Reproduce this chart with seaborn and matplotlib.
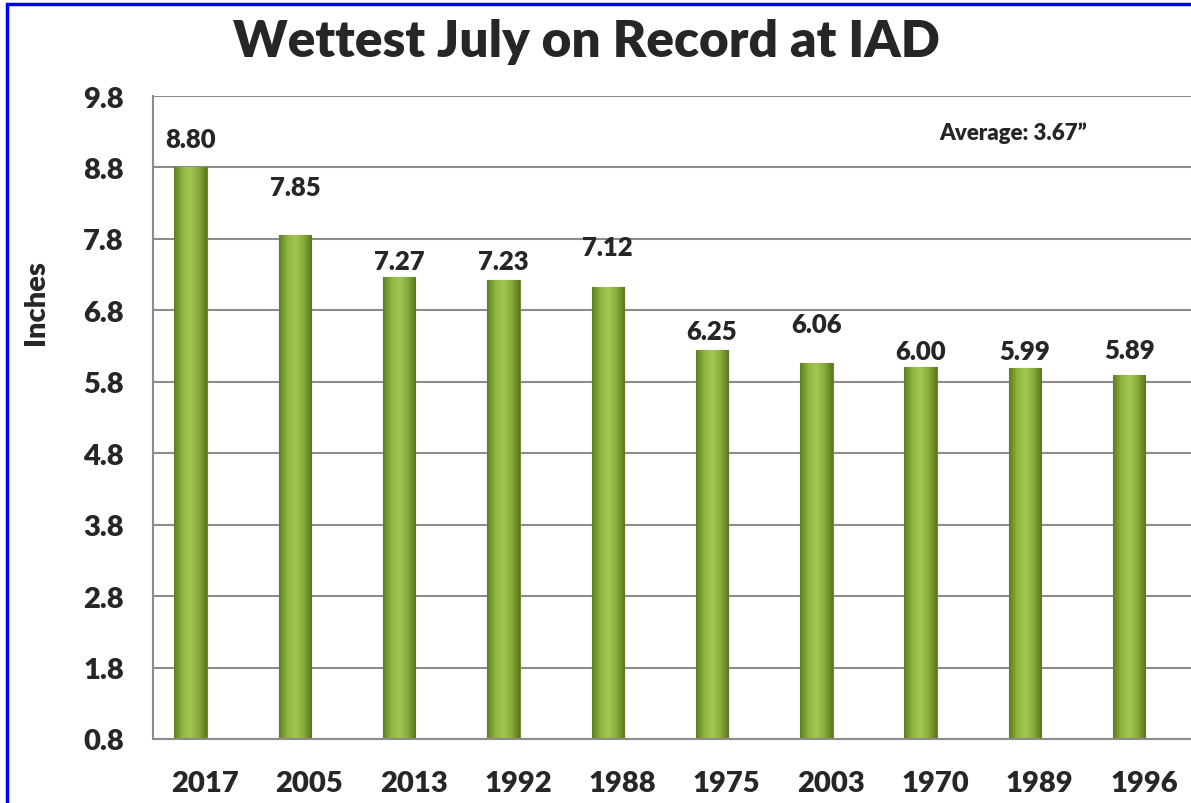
import numpy as np
import pandas as pd
import seaborn as sns
import matplotlib.pyplot as plt
from matplotlib.patches import Rectangle
from matplotlib.colors import LinearSegmentedColormap

# data
years = ['2017', '2005', '2013', '1992', '1988', '1975', '2003', '1970', '1989', '1996']
rain = [8.80, 7.85, 7.27, 7.23, 7.12, 6.25, 6.06, 6.00, 5.99, 5.89]
# where each value label sits (data units, labels were nudged by hand in the original)
label_y = [9.20, 8.53, 7.49, 7.49, 7.69, 6.51, 6.61, 6.23, 6.23, 6.24]
yticks = [0.8, 1.8, 2.8, 3.8, 4.8, 5.8, 6.8, 7.8, 8.8, 9.8]

df = pd.DataFrame({'year': years, 'inches': rain})

# bars in the original sit a bit left of the category centre
shift = -0.14

sns.set_style('white')
plt.rcParams['font.family'] = ['Lato', 'DejaVu Sans']
plt.rcParams['font.weight'] = 'heavy'

fig = plt.figure(figsize=(11.91, 8.04), dpi=100)
ax = fig.add_axes([153/1191, 64/804, 1043/1191, 643/804])

sns.barplot(data=df, x='year', y='inches', color='#8cb23c', width=0.31,
            edgecolor='#6f8f2c', linewidth=0.8, ax=ax)

# cylinder-ish shading on each bar
cmap = LinearSegmentedColormap.from_list('bar', ['#5f7d22', '#8fb53e', '#a3c755', '#88ac38', '#5a7620'])
grad = np.linspace(0, 1, 64).reshape(1, -1)
for p in ax.patches:
    p.set_x(p.get_x() + shift)
    x0, w, h = p.get_x(), p.get_width(), p.get_height()
    im = ax.imshow(grad, cmap=cmap, aspect='auto', extent=[x0, x0 + w, 0.8, h], zorder=p.get_zorder() + 0.1)
    im.set_clip_path(p)

ax.set_ylim(0.8, 9.8)
ax.set_xlim(-0.5, 9.5)
ax.set_yticks(yticks)
ax.set_yticklabels([f'{t:.1f}' for t in yticks])
ax.yaxis.grid(True, color='#8c8c8c', linewidth=1.5)
ax.set_axisbelow(True)

# tick marks between the categories, labels at the centres
ax.set_xticks(np.arange(-0.5, 10, 1))
ax.set_xticklabels([])
ax.set_xticks(range(len(years)), minor=True)
ax.set_xticklabels(years, minor=True)
ax.tick_params(axis='x', which='major', length=7, width=1.2, color='#8c8c8c', direction='out')
ax.tick_params(axis='x', which='minor', length=0, pad=22, labelsize=21)
ax.tick_params(axis='y', length=7, width=1.2, color='#8c8c8c', direction='out', pad=14, labelsize=21)

for s in ['top', 'right']:
    ax.spines[s].set_visible(False)
for s in ['left', 'bottom']:
    ax.spines[s].set_color('#8c8c8c')
    ax.spines[s].set_linewidth(1.5)

for i, (v, ly) in enumerate(zip(rain, label_y)):
    ax.text(i + shift, ly, f'{v:.2f}', ha='center', va='center', fontsize=18.5, fontweight='heavy')

ax.set_xlabel('')
ax.set_ylabel('Inches', fontsize=21, fontweight='heavy')
ax.yaxis.set_label_coords(-0.1, 0.68)

fig.text(1013/1191, 1 - 133/804, 'Average: 3.67\u201d', ha='center', va='center',
         fontsize=16, fontweight='heavy')
fig.text(0.492, 1 - 42/804, 'Wettest July on Record at IAD', ha='center', va='center',
         fontsize=37, fontweight='heavy')

# blue frame around the chart (cut off on the right and bottom like the original)
fig.patches.append(Rectangle((7/1191, -0.05), 1.1, 1 - 5/804 + 0.05, transform=fig.transFigure,
                             fill=False, edgecolor='#0000ff', linewidth=2.5))

fig.savefig('out.png', dpi=100)
